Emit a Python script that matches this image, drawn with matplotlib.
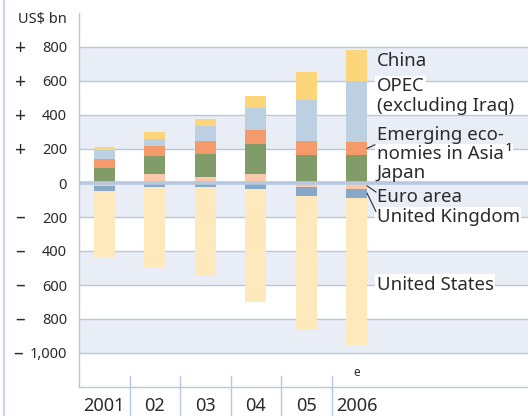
import numpy as np
import matplotlib
matplotlib.use('Agg')
import matplotlib.pyplot as plt
import matplotlib.transforms as mtransforms
from matplotlib.lines import Line2D

plt.rcParams['font.family'] = ['Noto Sans', 'DejaVu Sans']

# Current account balances, US$ bn (2006 = estimate)
YEARS = ['2001', '02', '03', '04', '05', '2006']
china = [20, 39, 45, 70, 167, 182]
opec = [55, 45, 84, 130, 237, 359]
asia = [51, 54, 77, 87, 87, 78]
japan = [88, 110, 137, 172, 162, 165]
euro = [-20, 51, 35, 55, -26, -33]
uk = [-29, -24, -25, -35, -53, -55]
usa = [-389, -472, -524, -665, -788, -867]

Y_TICKS = [800, 600, 400, 200, 0, -200, -400, -600, -800, -1000]

# colours
C_CHINA = '#FDD57A'
C_OPEC = '#BDD0E2'
C_ASIA = '#F59B6B'
C_JAPAN = '#819C69'
C_EURO = '#FBC9AA'
C_UK = '#88A8C9'
C_USA = '#FDE9BC'
BAND = '#E9EEF6'
GRID = '#B7C8E0'
TXT = '#2B2B2B'

W, H = 528, 416
AX_L, AX_R, AX_T, AX_B = 79, 528, 13, 387
CAT_PX = 50.5

fig = plt.figure(figsize=(W / 100, H / 100), dpi=100)
ax = fig.add_axes([AX_L / W, 1 - AX_B / H, (AX_R - AX_L) / W, (AX_B - AX_T) / H])

x = np.arange(len(YEARS))
bw = 0.41
euro = np.array(euro)
pos0 = np.clip(euro, 0, None)
neg0 = np.clip(euro, None, 0)

# shaded bands + grid
for lo in [600, 200, -200, -600, -1000]:
    ax.axhspan(lo, lo + 200, color=BAND, lw=0, zorder=0)
for v in Y_TICKS:
    if v != 0:
        ax.axhline(v, color=GRID, lw=1.0, zorder=1)

# positive stack
ax.bar(x, euro, bw, bottom=0, color=C_EURO, zorder=3)
b = pos0.astype(float)
for vals, col in [(japan, C_JAPAN), (asia, C_ASIA), (opec, C_OPEC), (china, C_CHINA)]:
    ax.bar(x, vals, bw, bottom=b, color=col, zorder=3)
    b = b + np.array(vals)
# negative stack
ax.bar(x, uk, bw, bottom=neg0, color=C_UK, zorder=3)
ax.bar(x, usa, bw, bottom=neg0 + np.array(uk), color=C_USA, zorder=3)

ax.axhline(0, color=GRID, lw=2.6, zorder=5)

ax.set_ylim(-1200, 1000)
ax.set_xlim(-0.5, -0.5 + (AX_R - AX_L) / CAT_PX)
for s in ['top', 'right']:
    ax.spines[s].set_visible(False)
for s in ['left', 'bottom']:
    ax.spines[s].set_color(GRID)
    ax.spines[s].set_linewidth(1.0)

ax.set_yticks(Y_TICKS)
ax.set_yticklabels(['{:,}'.format(abs(v)) for v in Y_TICKS])
ax.tick_params(axis='y', length=0, pad=8.6, labelsize=10.5, labelcolor=TXT)
ax.set_xticks(x)
ax.set_xticklabels(YEARS)
ax.tick_params(axis='x', length=0, pad=7, labelsize=13, labelcolor=TXT)

# signs in front of the y tick numbers
ytrans = mtransforms.blended_transform_factory(ax.transAxes, ax.transData)
dash_trans = mtransforms.offset_copy(ytrans, fig=fig, y=2, units='dots')
for v in Y_TICKS:
    if v == 0:
        continue
    if v > 0:
        sign, tr = '+', ytrans
    else:
        sign, tr = '\u2013', dash_trans
    px = 17.7 if v == -1000 else 20.5
    ax.text((px - AX_L) / (AX_R - AX_L), v, sign, transform=tr,
            ha='center', va='center_baseline', fontsize=14, color=TXT)

fig.text(67 / W, 1 - 20 / H, 'US$ bn', ha='right', va='center', fontsize=10.5, color=TXT)

# category separators under the axis
xtrans = mtransforms.blended_transform_factory(ax.transData, ax.transAxes)
for bx in np.arange(0.5, len(YEARS) - 1, 1.0):
    ax.add_line(Line2D([bx, bx], [(AX_B - 376) / (AX_B - AX_T), -0.08], transform=xtrans,
                       color=GRID, lw=1.0, clip_on=False))
ax.text(x[-1], (AX_B - 372) / (AX_B - AX_T), 'e', transform=xtrans, ha='center', va='center',
        fontsize=8.5, fontweight='semibold', color=TXT)

# series labels on the right
lab_x = -0.5 + (376.7 - AX_L) / CAT_PX
labels = [('China', 715, None), ('OPEC', 568, 'white'), ('(excluding Iraq)', 451, None),
          ('Emerging eco-', 284, None), ('nomies in Asia\u200a¹', 171, 'white'),
          ('Japan', 59, None), ('Euro area', -82, None), ('United Kingdom', -200, 'white'),
          ('United States', -598, 'white')]
for txt, yv, bg in labels:
    kw = {}
    if bg:
        kw['bbox'] = dict(facecolor=bg, edgecolor='none', pad=1.0)
    ax.text(lab_x, yv, txt, ha='left', va='center', fontsize=13.4, color=TXT, zorder=6, **kw)

# leader lines from the 2006 bar
edge = x[-1] + bw / 2
asia_mid = japan[-1] + asia[-1] / 2
euro_mid = neg0[-1] / 2
uk_mid = neg0[-1] + uk[-1] / 2
for y0, x1, y1 in [(asia_mid, 5.36, 225), (euro_mid, 5.38, -53), (uk_mid, 5.38, -167)]:
    ax.plot([edge, x1], [y0, y1], color=TXT, lw=0.8, zorder=6, clip_on=False)

# thin frame line at the far left
fig.add_artist(Line2D([4 / W, 4 / W], [0, 1], color='#C9D6E8', lw=1.5))

fig.savefig('out.png', dpi=100)
